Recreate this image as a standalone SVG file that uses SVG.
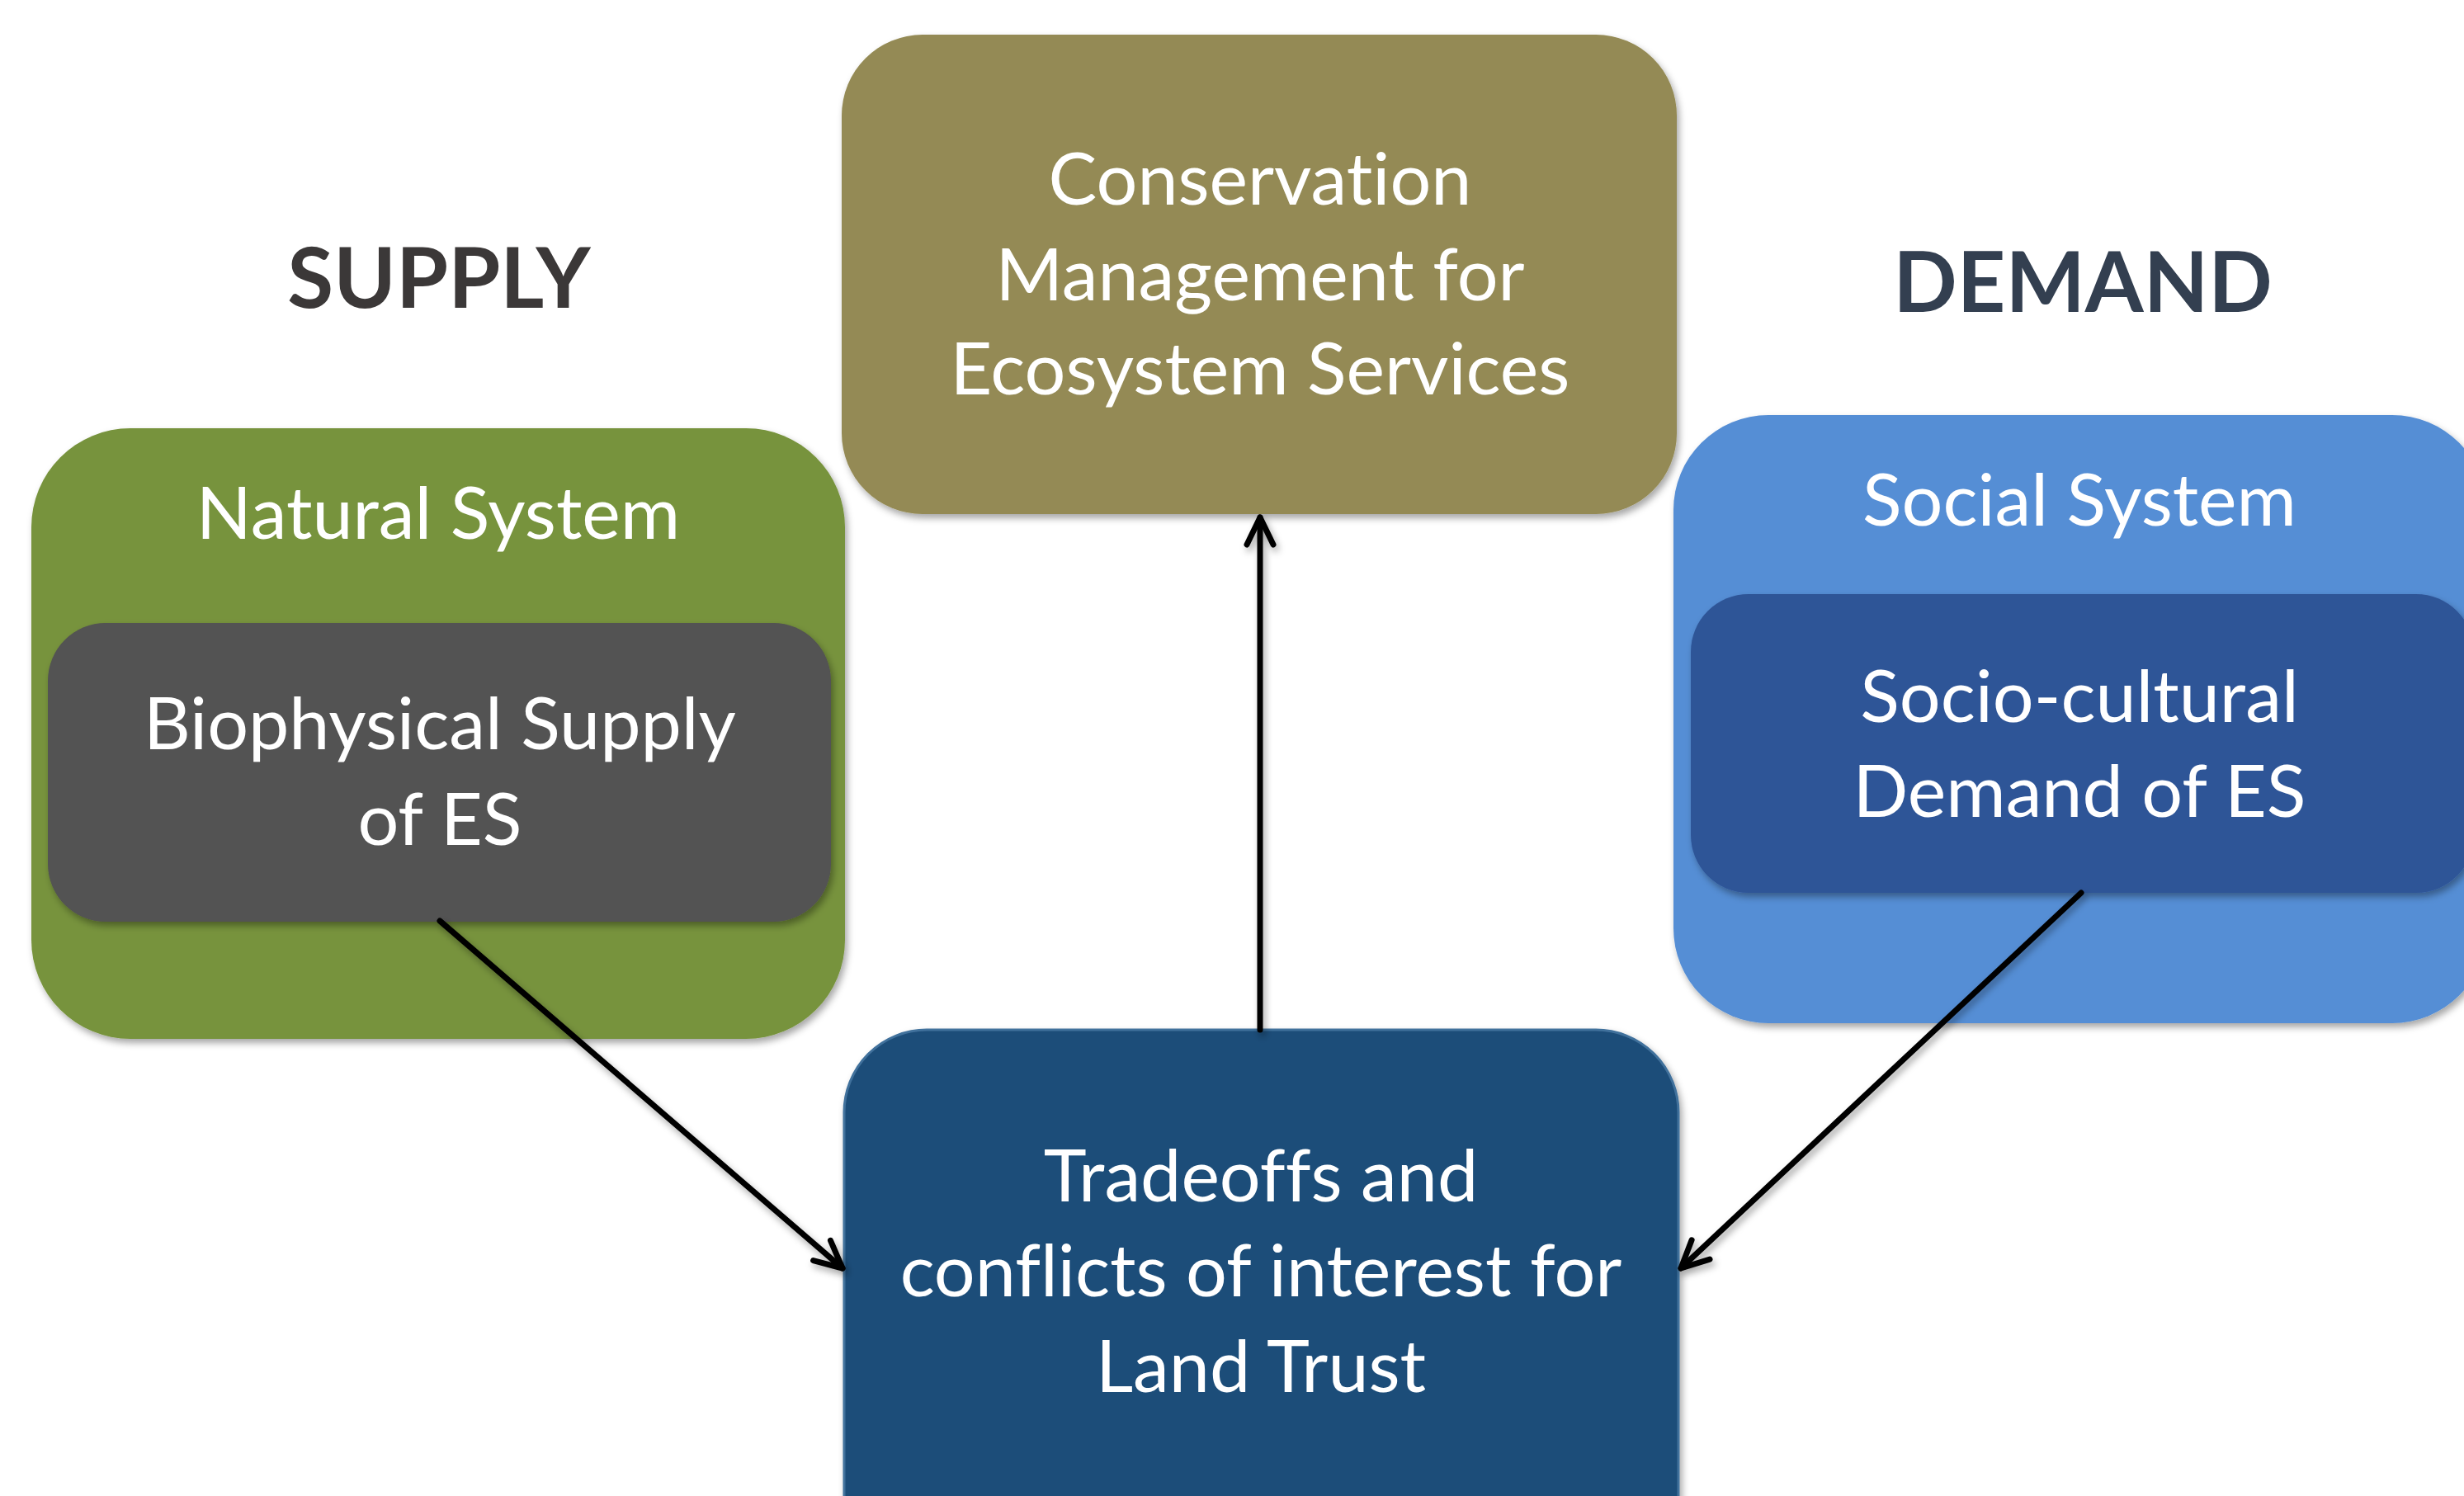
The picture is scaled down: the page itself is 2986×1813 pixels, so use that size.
<svg xmlns="http://www.w3.org/2000/svg" width="2986" height="1813" viewBox="0 0 2986 1813">
  <style>
    .lbl { font-family: Lato, "Open Sans", "Liberation Sans", sans-serif; font-size: 88px; fill: #ffffff; text-anchor: middle; font-variant-ligatures: none; }
    .head { font-family: Lato, "Open Sans", "Liberation Sans", sans-serif; font-weight: bold; font-size: 102px; text-anchor: middle; }
    .conn { stroke: #000000; stroke-width: 7; fill: none; stroke-linecap: round; stroke-linejoin: round; }
  </style>
  <defs>
    <filter id="sh" x="-10%" y="-10%" width="120%" height="120%">
      <feDropShadow dx="3" dy="5" stdDeviation="4" flood-color="#000000" flood-opacity="0.35"/>
    </filter>
    <marker id="arr" viewBox="-44 -22 48 44" markerWidth="48" markerHeight="44" refX="0" refY="0" orient="auto" markerUnits="userSpaceOnUse">
      <path d="M -33 -16 L 0 0 L -33 16" fill="none" stroke="#000000" stroke-width="7" stroke-linecap="round" stroke-linejoin="round"/>
    </marker>
  </defs>
  <rect width="2986" height="1813" fill="#ffffff"/>

  <text class="head" x="532" y="373" fill="#3B3838">SUPPLY</text>
  <text class="head" x="2524" y="378" fill="#333F50">DEMAND</text>

  <g id="conservation">
    <rect x="1020" y="42" width="1012" height="581" rx="98" ry="98" fill="#948A54" filter="url(#sh)"/>
    <text class="lbl" x="1527" y="248">Conservation</text>
    <text class="lbl" x="1527" y="364">Management for</text>
    <text class="lbl" x="1527" y="478">Ecosystem Services</text>
  </g>

  <g id="natural-system">
    <rect x="38" y="519" width="986" height="740" rx="120" ry="120" fill="#77933C" filter="url(#sh)"/>
    <text class="lbl" x="531" y="653">Natural System</text>
  </g>

  <g id="biophysical-supply">
    <rect x="58" y="755" width="949" height="362" rx="70" ry="70" fill="#525252" filter="url(#sh)"/>
    <text class="lbl" x="533" y="908">Biophysical Supply</text>
    <text class="lbl" x="533" y="1024">of ES</text>
  </g>

  <g id="social-system">
    <rect x="2028" y="503" width="986" height="737" rx="115" ry="115" fill="#558ED5" filter="url(#sh)"/>
    <text class="lbl" x="2520" y="637">Social System</text>
  </g>

  <g id="sociocultural-demand">
    <rect x="2049" y="720" width="949" height="362" rx="70" ry="70" fill="#2F5597" filter="url(#sh)"/>
    <text class="lbl" x="2520" y="875">Socio-cultural</text>
    <text class="lbl" x="2520" y="990">Demand of ES</text>
  </g>

  <g id="tradeoffs">
    <rect x="1023" y="1248" width="1011" height="700" rx="100" ry="100" fill="#1F4E79" stroke="#41719C" stroke-width="3" filter="url(#sh)"/>
    <text class="lbl" x="1528" y="1456">Tradeoffs and</text>
    <text class="lbl" x="1528" y="1571">conflicts of interest for</text>
    <text class="lbl" x="1528" y="1687">Land Trust</text>
  </g>

  <g id="connectors" filter="url(#sh)">
    <line class="conn" x1="1527" y1="1248" x2="1527" y2="627" marker-end="url(#arr)"/>
    <line class="conn" x1="533" y1="1116" x2="1021" y2="1537" marker-end="url(#arr)"/>
    <line class="conn" x1="2522" y1="1082" x2="2037" y2="1537" marker-end="url(#arr)"/>
  </g>
</svg>
